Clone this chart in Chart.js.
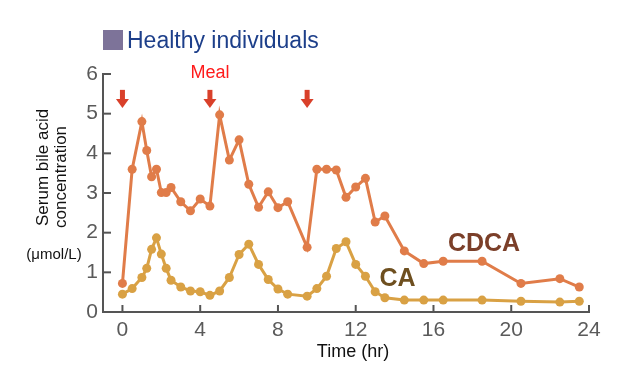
<!DOCTYPE html>
<html>
<head>
<meta charset="utf-8">
<script src="https://cdn.jsdelivr.net/npm/chart.js@4.4.1/dist/chart.umd.min.js"></script>
<style>
  html, body { margin: 0; padding: 0; background: #fff; }
  #wrap { width: 625px; height: 387px; }
</style>
</head>
<body>
<div id="wrap"><canvas id="myChart" width="625" height="387"></canvas></div>
<script>
'use strict';
// time points (hr) and serum values (umol/L)
let hours = [0, 0.5, 1, 1.25, 1.5, 1.75, 2, 2.25, 2.5, 3, 3.5, 4, 4.5, 5, 5.5, 6, 6.5, 7, 7.5, 8, 8.5, 9.5, 10, 10.5, 11, 11.5, 12, 12.5, 13, 13.5, 14.5, 15.5, 16.5, 18.5, 20.5, 22.5, 23.5];
let cdca = [0.72, 3.60, 4.80, 4.07, 3.41, 3.60, 3.01, 3.01, 3.14, 2.78, 2.55, 2.85, 2.67, 4.97, 3.83, 4.34, 3.22, 2.64, 3.03, 2.63, 2.78, 1.63, 3.60, 3.60, 3.58, 2.89, 3.15, 3.37, 2.27, 2.42, 1.54, 1.22, 1.28, 1.28, 0.72, 0.84, 0.63];
let ca = [0.45, 0.59, 0.87, 1.10, 1.58, 1.87, 1.46, 1.10, 0.80, 0.63, 0.53, 0.51, 0.42, 0.53, 0.87, 1.45, 1.71, 1.20, 0.82, 0.58, 0.45, 0.40, 0.59, 0.90, 1.60, 1.77, 1.20, 0.90, 0.51, 0.36, 0.30, 0.30, 0.30, 0.30, 0.27, 0.25, 0.27];
let xTicks = [0, 4, 8, 12, 16, 20, 24];
let yTicks = [0, 1, 2, 3, 4, 5, 6];
let mealTimes = [0, 4.5, 9.5];

let FONT = '"Liberation Sans", Arial, Helvetica, sans-serif';

function toPoints(vals) {
  let pts = [];
  for (let i = 0; i < hours.length; i++) {
    pts.push({ x: hours[i], y: vals[i] });
  }
  return pts;
}

// title, axis labels, meal arrows, series labels, inward ticks
let extras = {
  id: 'extras',
  afterDraw(chart) {
    let ctx = chart.ctx;
    let xs = chart.scales.x;
    let ys = chart.scales.y;
    ctx.save();

    // title
    ctx.fillStyle = '#7d7399';
    ctx.fillRect(103, 30, 20, 20);
    ctx.fillStyle = '#1d3f8a';
    ctx.font = '23px ' + FONT;
    ctx.textAlign = 'left';
    ctx.textBaseline = 'alphabetic';
    ctx.fillText('Healthy individuals', 127, 48);

    // inward tick marks
    ctx.strokeStyle = '#555';
    ctx.lineWidth = 2;
    xTicks.forEach(function (v) {
      let px = xs.getPixelForValue(v);
      ctx.beginPath();
      ctx.moveTo(px, ys.bottom);
      ctx.lineTo(px, ys.bottom - 7);
      ctx.stroke();
    });
    yTicks.forEach(function (v) {
      let py = ys.getPixelForValue(v);
      ctx.beginPath();
      ctx.moveTo(xs.left, py);
      ctx.lineTo(xs.left + 8, py);
      ctx.stroke();
    });

    // meal arrows
    let top = ys.getPixelForValue(5.6);
    let tip = ys.getPixelForValue(5.14);
    ctx.fillStyle = '#d9402a';
    mealTimes.forEach(function (t) {
      let px = xs.getPixelForValue(t);
      ctx.fillRect(px - 2.5, top, 5, (tip - top) - 8);
      ctx.beginPath();
      ctx.moveTo(px - 6.5, tip - 9);
      ctx.lineTo(px + 6.5, tip - 9);
      ctx.lineTo(px, tip);
      ctx.closePath();
      ctx.fill();
    });
    ctx.fillStyle = '#ff1a1a';
    ctx.font = '18px ' + FONT;
    ctx.textAlign = 'center';
    ctx.textBaseline = 'middle';
    ctx.fillText('Meal', xs.getPixelForValue(4.5), 73);

    // series labels
    ctx.font = 'bold 25px ' + FONT;
    ctx.fillStyle = '#7b3f29';
    ctx.fillText('CDCA', xs.getPixelForValue(18.6), ys.getPixelForValue(1.71));
    ctx.fillStyle = '#6e4f1f';
    ctx.fillText('CA', xs.getPixelForValue(14.15), ys.getPixelForValue(0.84));

    // y axis title
    ctx.fillStyle = '#111';
    ctx.font = '17px ' + FONT;
    ctx.save();
    ctx.translate(43, 226);
    ctx.rotate(-Math.PI / 2);
    ctx.textAlign = 'left';
    ctx.fillText('Serum bile acid', 0, 0);
    ctx.fillText('concentration', -2, 18);
    ctx.restore();
    ctx.textAlign = 'center';
    ctx.font = '15px ' + FONT;
    ctx.fillText('(\u03bcmol/L)', 54, 255);

    // x axis title
    ctx.font = '18px ' + FONT;
    ctx.fillText('Time (hr)', 353, 352);
    ctx.restore();
  }
};

let ctx = document.getElementById('myChart').getContext('2d');
let myChart = new Chart(ctx, {
  type: 'line',
  data: {
    datasets: [{
      label: 'CDCA',
      data: toPoints(cdca),
      borderColor: '#e07c49',
      backgroundColor: '#e07c49',
      borderWidth: 3,
      pointRadius: 4.5,
      pointBorderWidth: 0,
      tension: 0
    },
    {
      label: 'CA',
      data: toPoints(ca),
      borderColor: '#d9a144',
      backgroundColor: '#d9a144',
      borderWidth: 3,
      pointRadius: 4.5,
      pointBorderWidth: 0,
      tension: 0
    }]
  },
  options: {
    responsive: false,
    animation: false,
    layout: { padding: { top: 74, right: 36, left: 0, bottom: 0 } },
    plugins: {
      legend: { display: false },
      tooltip: { enabled: false }
    },
    scales: {
      x: {
        type: 'linear',
        min: -1,
        max: 24,
        afterBuildTicks: function (scale) {
          scale.ticks = xTicks.map(function (v) { return { value: v }; });
        },
        afterFit: function (scale) { scale.height = 75; },
        grid: { display: true, drawOnChartArea: false, drawTicks: false },
        border: { display: true, color: '#555', width: 2 },
        ticks: { padding: 6, color: '#5a5a5a', font: { family: FONT, size: 21 } }
      },
      y: {
        min: 0,
        max: 6,
        afterBuildTicks: function (scale) {
          scale.ticks = yTicks.map(function (v) { return { value: v }; });
        },
        afterFit: function (scale) { scale.width = 103; },
        grid: { display: true, drawOnChartArea: false, drawTicks: false },
        border: { display: true, color: '#555', width: 2 },
        ticks: { padding: 5, color: '#5a5a5a', font: { family: FONT, size: 21 } }
      }
    }
  },
  plugins: [extras]
});
</script>
</body>
</html>
